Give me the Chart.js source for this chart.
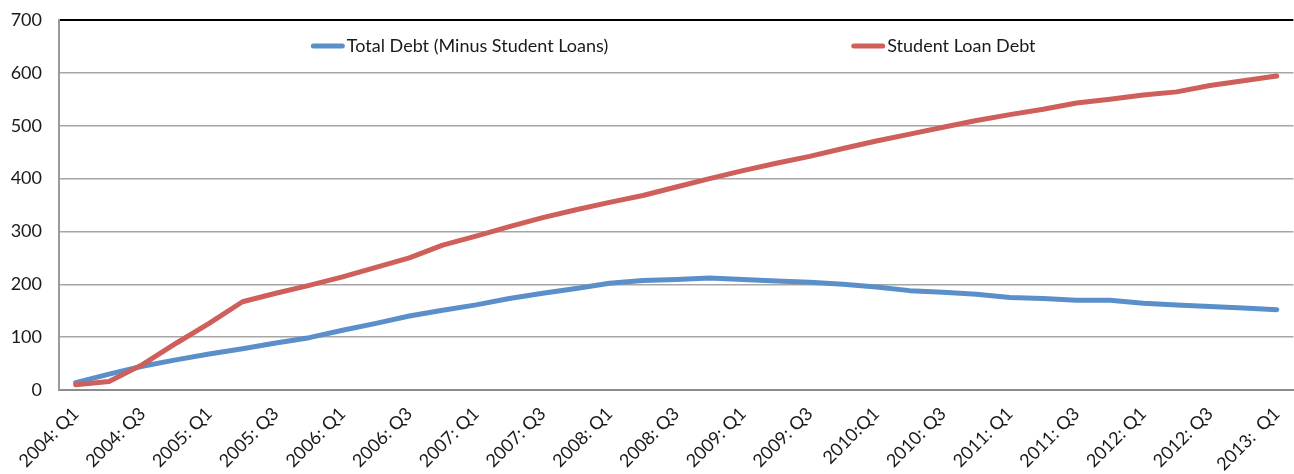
<!DOCTYPE html>
<html>
<head>
<meta charset="utf-8">
<script src="https://cdn.jsdelivr.net/npm/chart.js@4.4.1/dist/chart.umd.min.js"></script>
<style>
  html, body { margin: 0; padding: 0; background: #fff; overflow: hidden; }
  #wrap { width: 1305px; height: 474px; }
</style>
</head>
<body>
<div id="wrap"><canvas id="debtChart"></canvas></div>
<script>
// quarterly series, 2004 Q1 .. 2013 Q1
const quarters = [
  '2004: Q1', '2004: Q2', '2004: Q3', '2004: Q4',
  '2005: Q1', '2005: Q2', '2005: Q3', '2005: Q4',
  '2006: Q1', '2006: Q2', '2006: Q3', '2006: Q4',
  '2007: Q1', '2007: Q2', '2007: Q3', '2007: Q4',
  '2008: Q1', '2008: Q2', '2008: Q3', '2008: Q4',
  '2009: Q1', '2009: Q2', '2009: Q3', '2009: Q4',
  '2010:Q1', '2010: Q2', '2010: Q3', '2010: Q4',
  '2011: Q1', '2011: Q2', '2011: Q3', '2011: Q4',
  '2012: Q1', '2012: Q2', '2012: Q3', '2012: Q4',
  '2013:  Q1'
];

const totalDebt = [
  14, 30, 45, 57, 68, 78, 89, 99, 113, 126, 140, 151, 161,
  173, 183, 192, 202, 207, 209, 212, 209, 206, 204, 200, 195,
  188, 185, 181, 175, 173, 170, 170, 164, 161, 158, 155, 152
];

const studentLoans = [
  10, 16, 48, 88, 126, 167, 183, 198, 214, 232, 250, 274, 291,
  309, 326, 341, 355, 368, 384, 400, 415, 429, 442, 457, 471,
  484, 497, 510, 521, 531, 543, 550, 558, 564, 576, 585, 594
];

const yTicks = [0, 100, 200, 300, 400, 500, 600, 700];

const FONT = 'Lato, "Open Sans", sans-serif';

// legend drawn inside the plot, under the top border
const lineLegend = {
  id: 'lineLegend',
  afterDraw(chart, args, opts) {
    const { ctx, chartArea } = chart;
    ctx.save();
    ctx.font = opts.font;
    const items = chart.data.datasets.map(ds => ({
      label: ds.label,
      color: ds.borderColor,
      w: opts.sample + opts.textGap + ctx.measureText(ds.label).width
    }));
    const total = items.reduce((s, it) => s + it.w, 0) + opts.gap * (items.length - 1);
    let x = (chartArea.left + chartArea.right) / 2 - total / 2 + opts.shift;
    const y = chartArea.top + opts.offsetY;
    items.forEach(it => {
      ctx.strokeStyle = it.color;
      ctx.lineWidth = 5;
      ctx.lineCap = 'round';
      ctx.beginPath();
      ctx.moveTo(x + 2.5, y);
      ctx.lineTo(x + opts.sample - 2.5, y);
      ctx.stroke();
      ctx.fillStyle = '#1a1a1a';
      ctx.textBaseline = 'middle';
      ctx.fillText(it.label, x + opts.sample + opts.textGap, y);
      x += it.w + opts.gap;
    });
    ctx.restore();
  }
};

new Chart(document.getElementById('debtChart'), {
  type: 'line',
  data: {
    labels: quarters,
    datasets: [
      {
        label: 'Total Debt (Minus Student Loans)',
        data: totalDebt,
        borderColor: '#5b8fc9',
        backgroundColor: '#5b8fc9',
        borderWidth: 5,
        order: 1
      },
      {
        label: 'Student Loan Debt',
        data: studentLoans,
        borderColor: '#cf5f5a',
        backgroundColor: '#cf5f5a',
        borderWidth: 5,
        order: 0
      }
    ]
  },
  options: {
    responsive: true,
    maintainAspectRatio: false,
    animation: false,
    layout: { padding: { top: 20, right: 0, bottom: 0, left: 0 } },
    elements: {
      point: { radius: 0, hoverRadius: 0 },
      line: { tension: 0, borderCapStyle: 'round', borderJoinStyle: 'round' }
    },
    plugins: {
      legend: { display: false },
      tooltip: { enabled: false },
      lineLegend: {
        font: '18px ' + FONT,
        sample: 34,
        textGap: 2,
        gap: 243,
        shift: -3,
        offsetY: 26
      }
    },
    scales: {
      x: {
        offset: true,
        grid: { display: false, drawTicks: false },
        border: { color: '#8c8c8c', width: 2 },
        afterFit: s => { s.height = 84; },
        ticks: {
          autoSkip: false,
          minRotation: 45,
          maxRotation: 45,
          padding: 13,
          color: '#1a1a1a',
          font: { family: FONT, size: 18 },
          callback: function (val, idx) {
            return idx % 2 === 0 ? this.getLabelForValue(val) : '';
          }
        }
      },
      y: {
        min: 0,
        max: 700,
        afterBuildTicks: s => { s.ticks = yTicks.map(v => ({ value: v })); },
        afterFit: s => { s.width = 59; },
        grid: {
          drawTicks: true,
          tickLength: 17,
          tickColor: 'transparent',
          color: c => (c.tick.value === 700 ? '#000' : '#a6a6a6'),
          lineWidth: c => (c.tick.value === 700 ? 2 : 1.5)
        },
        border: { color: '#9a9a9a', width: 2 },
        ticks: {
          padding: 0,
          color: '#1a1a1a',
          font: { family: FONT, size: 18 }
        }
      }
    }
  },
  plugins: [lineLegend]
});
</script>
</body>
</html>
